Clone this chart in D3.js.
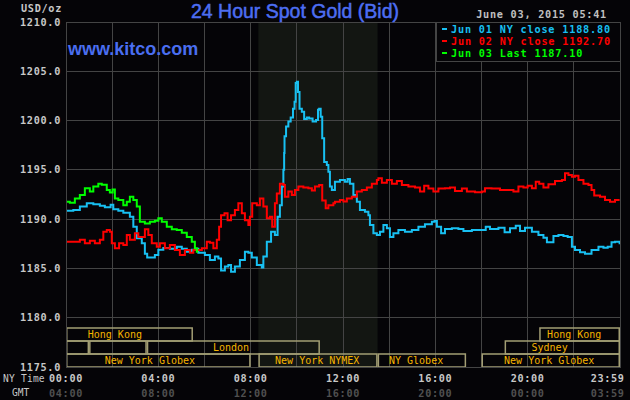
<!DOCTYPE html>
<html><head><meta charset="utf-8">
<script src="https://cdn.jsdelivr.net/npm/d3@7"></script>
<style>html,body{margin:0;padding:0;background:#050407;} svg{display:block}</style>
</head><body><svg id="c" width="630" height="400"></svg>
<script>
// ---- DATA (minutes after 00:00 NY time, price USD/oz) ----
const cyanT = [0,19,36,54,71,88,101,116,123,136,149,158,166,175,184,197,205,211,223,231,240,253,270,288,301,314,327,340,344,361,374,387,396,403,413,422,429,439,452,465,474,483,496,509,513,522,533,543,550,556,561,565,567,568,572,578,584,590,594,597,600,603,607,613,619,626,632,641,650,655,658,662,666,671,678,682,686,691,699,712,725,732,738,747,756,764,777,786,790,799,808,816,825,834,842,851,864,881,899,916,933,951,958,964,975,985,1003,1020,1033,1055,1072,1091,1102,1124,1140,1154,1169,1180,1193,1211,1228,1241,1250,1261,1267,1280,1293,1304,1315,1323,1336,1349,1366,1384,1397,1408,1418,1427,1439];
const cyanV = [1190.86,1190.93,1191.27,1191.6,1191.5,1191.36,1191.2,1191.47,1191.0,1190.86,1190.65,1190.65,1190.25,1189.23,1188.05,1187.55,1186.5,1186.1,1186.1,1186.36,1186.9,1187.07,1187.0,1187.2,1187.0,1186.7,1186.9,1187.0,1186.6,1186.36,1185.85,1186.2,1186.0,1184.8,1185.2,1185.35,1184.67,1185.2,1185.85,1186.7,1186.6,1186.1,1185.35,1185.1,1186.2,1187.7,1188.73,1188.4,1190.25,1191.4,1193.3,1195.0,1196.7,1198.4,1199.4,1199.9,1200.3,1201.2,1201.9,1203.8,1203.95,1202.9,1201.2,1200.9,1200.15,1200.3,1200.2,1199.9,1200.05,1201.1,1201.2,1200.4,1198.2,1195.8,1195.5,1194.8,1193.3,1192.95,1193.8,1193.97,1193.8,1194.07,1193.6,1192.45,1191.77,1190.93,1190.76,1190.4,1189.4,1188.56,1188.4,1188.73,1189.4,1189.07,1188.2,1188.56,1188.9,1188.73,1188.9,1189.23,1189.47,1189.74,1189.8,1189.23,1188.56,1189.0,1189.07,1189.0,1188.8,1188.9,1188.9,1189.23,1189.0,1189.13,1188.67,1189.07,1189.33,1188.8,1189.13,1188.73,1188.4,1188.1,1187.65,1187.65,1188.3,1188.4,1188.3,1188.2,1187.2,1186.87,1186.63,1186.5,1186.87,1187.2,1187.1,1187.2,1187.65,1187.7,1187.45];

const redT = [0,19,36,49,62,75,88,97,106,114,119,127,138,149,158,166,179,188,197,205,214,223,236,244,257,270,283,296,309,322,331,344,353,366,374,383,392,398,403,412,420,429,439,448,457,465,474,478,484,496,504,513,522,530,536,543,548,556,565,569,578,587,595,604,617,630,639,647,658,666,675,682,695,699,712,721,730,743,756,769,782,795,808,812,821,834,847,860,873,890,907,920,931,942,955,968,985,998,1011,1029,1042,1063,1081,1089,1106,1128,1146,1163,1176,1189,1200,1211,1221,1230,1241,1254,1271,1289,1297,1306,1315,1323,1332,1345,1358,1366,1373,1388,1401,1414,1427,1439];
const redV = [1187.7,1187.7,1187.9,1187.55,1187.8,1187.55,1187.9,1188.73,1188.9,1188.73,1187.55,1187.04,1187.55,1187.38,1188.4,1187.9,1188.56,1188.2,1188.2,1188.97,1188.4,1187.55,1187.2,1187.55,1187.04,1187.38,1186.87,1186.36,1186.87,1186.6,1186.87,1186.87,1187.04,1187.7,1187.6,1187.04,1187.9,1189.23,1190.4,1190.6,1189.9,1190.4,1190.93,1191.6,1190.6,1189.9,1189.4,1190.25,1191.6,1191.4,1192.1,1191.27,1190.1,1190.25,1189.23,1191.6,1192.6,1193.6,1193.46,1192.27,1192.8,1192.45,1192.95,1193.3,1193.2,1193.13,1192.9,1193.3,1193.46,1191.9,1191.1,1191.4,1191.6,1191.77,1191.94,1191.8,1192.1,1192.27,1192.8,1192.95,1193.2,1193.6,1193.97,1194.14,1193.7,1193.97,1193.6,1193.87,1193.46,1193.3,1193.2,1192.8,1193.4,1193.1,1192.8,1193.1,1193.13,1193.2,1192.86,1193.1,1192.8,1192.72,1192.8,1193.13,1193.1,1192.95,1192.95,1192.8,1193.3,1193.2,1193.4,1193.13,1193.8,1193.6,1193.2,1193.53,1193.87,1193.97,1194.65,1194.47,1194.3,1194.4,1193.97,1193.6,1193.46,1192.95,1192.4,1192.27,1191.94,1191.77,1191.94,1191.94];

const greenT = [0,10,23,36,49,62,71,84,93,106,114,121,127,136,149,158,166,175,184,192,205,218,231,240,249,262,275,288,301,314,327,335,340,341];
const greenV = [1191.77,1191.67,1192.1,1192.45,1193.13,1192.8,1193.3,1193.6,1193.5,1192.95,1192.7,1193.0,1192.1,1191.94,1191.4,1191.77,1192.27,1191.94,1191.27,1189.74,1189.57,1189.74,1189.84,1190.08,1189.74,1189.23,1188.97,1188.9,1188.63,1188.2,1187.7,1187.04,1186.7,1187.1];

const seriesNames = ["Jun 01 NY close 1188.80","Jun 02 NY close 1192.70","Jun 03 Last 1187.10"];
const seriesColors = ["#18c0f2","#ff0000","#00ff00"];

const yTicks = [1175,1180,1185,1190,1195,1200,1205,1210];
const xTickMin = [0,240,480,720,960,1200,1439];
const xTickNY = ["00:00","04:00","08:00","12:00","16:00","20:00","23:59"];
const xTickGMT = ["04:00","08:00","12:00","16:00","20:00","00:00","03:59"];

const nymexStart = 500, nymexEnd = 810;

const sessionRow   = [0,0,1,1,1,1,2,2,2,2];
const sessionStart = [0,1230,0,60,210,1140,0,500,810,1080];
const sessionEnd   = [330,1440,60,210,660,1440,480,810,1040,1440];
const sessionLabelAt = [127,1321,null,null,429,1257,218,653,910,1256];
const sessionLabel = ["Hong Kong","Hong Kong","","","London","Sydney","New York Globex","New York NYMEX","NY Globex","New York Globex"];

// ---- CHART ----
const svg = d3.select("#c");
const L = 66, R = 620, T = 22, B = 367;
const x = d3.scaleLinear().domain([0,1440]).range([L,R]);
const y = d3.scaleLinear().domain([1175,1210]).range([B,T]);
const mono = "'DejaVu Sans Mono', 'Liberation Mono', monospace";
const grid = "#444444";
const fs = "10.2px";

svg.append("rect").attr("width",630).attr("height",400).attr("fill","#050407");

// NYMEX shading
svg.append("rect").attr("x",x(nymexStart)).attr("y",T).attr("width",x(nymexEnd)-x(nymexStart)).attr("height",B-T).attr("fill","#131612");

// grid
const vg = d3.range(0,1441,120);
svg.append("g").selectAll("line").data(vg).join("line")
  .attr("x1",d=>x(d)).attr("x2",d=>x(d)).attr("y1",T).attr("y2",B)
  .attr("stroke",grid).attr("stroke-width",1).attr("shape-rendering","crispEdges");
svg.append("g").selectAll("line").data(yTicks).join("line")
  .attr("x1",L).attr("x2",R).attr("y1",d=>y(d)).attr("y2",d=>y(d))
  .attr("stroke",grid).attr("stroke-width",1).attr("shape-rendering","crispEdges");

// y axis
const yAxis = svg.append("g").attr("transform",`translate(${L-5},0)`)
  .call(d3.axisLeft(y).tickValues(yTicks).tickFormat(d3.format(".1f")).tickSize(0).tickPadding(0));
yAxis.select(".domain").remove();
yAxis.selectAll("text").attr("fill","#c8c8c8").attr("font-family",mono).attr("font-size",fs)
  .attr("font-weight","bold").attr("letter-spacing","0.7px").attr("dy","0.3em");
svg.append("text").attr("x",L-4).attr("y",12).attr("text-anchor","end").attr("fill","#c8c8c8")
  .attr("font-family",mono).attr("font-size",fs).attr("letter-spacing","0.7px").attr("font-weight","bold").text("USD/oz");

// sessions
const rowTop = [328,341,354], rowH = 13;
const sess = sessionRow.map((r,i)=>({r,s:sessionStart[i],e:sessionEnd[i],lab:sessionLabel[i],at:sessionLabelAt[i]}));
const sg = svg.append("g");
sg.selectAll("rect").data(sess).join("rect")
  .attr("x",d=>x(d.s)+0.75).attr("width",d=>x(d.e)-x(d.s)-1.5)
  .attr("y",d=>rowTop[d.r]).attr("height",rowH)
  .attr("fill","none").attr("stroke","#a39e74").attr("stroke-width",1.5);
sg.selectAll("text").data(sess.filter(d=>d.lab)).join("text")
  .attr("x",d=>x(d.at)).attr("y",d=>rowTop[d.r]+10)
  .attr("text-anchor","middle").attr("fill","#f5b400")
  .attr("font-family",mono).attr("font-size","10px").text(d=>d.lab);

// lines
const line = d3.line().x(d=>x(d[0])).y(d=>y(d[1])).curve(d3.curveStepAfter);
svg.append("clipPath").attr("id","clip").append("rect").attr("x",L).attr("y",T).attr("width",R-L).attr("height",B-T);
const series = [[cyanT,cyanV],[redT,redV],[greenT,greenV]];
const lg = svg.append("g").attr("clip-path","url(#clip)");
series.forEach((s,i)=>{
  const pts = s[0].map((t,j)=>[t,s[1][j]]);
  lg.append("path").datum(pts).attr("d",line).attr("fill","none")
    .attr("stroke",seriesColors[i]).attr("stroke-width",2).attr("stroke-linejoin","miter");
});

// plot border
svg.append("rect").attr("x",L).attr("y",T).attr("width",R-L).attr("height",B-T)
  .attr("fill","none").attr("stroke",grid).attr("stroke-width",1).attr("shape-rendering","crispEdges");

// legend
svg.append("rect").attr("x",436).attr("y",T).attr("width",R-436).attr("height",39)
  .attr("fill","#050407").attr("stroke",grid).attr("stroke-width",1).attr("shape-rendering","crispEdges");
seriesNames.forEach((n,i)=>{
  const by = 33 + i*12;
  svg.append("rect").attr("x",442).attr("y",by-5).attr("width",5).attr("height",2).attr("fill",seriesColors[i]);
  svg.append("text").attr("x",451).attr("y",by).attr("fill",seriesColors[i])
    .attr("font-family",mono).attr("font-size",fs).attr("letter-spacing","0.82px").attr("font-weight","bold").text(n);
});

// title
svg.append("text").attr("x",295).attr("y",18).attr("text-anchor","middle").attr("fill","#4d6ef2")
  .attr("stroke","#4d6ef2").attr("stroke-width",0.5)
  .attr("font-family","'Liberation Sans', Arial, sans-serif").attr("font-size","19.5px").text("24 Hour Spot Gold (Bid)");
svg.append("text").attr("x",68).attr("y",55).attr("fill","#4a6ef0")
  .attr("font-family","'Liberation Sans', Arial, sans-serif").attr("font-size","18px").attr("font-weight","bold").text("www.kitco.com");
svg.append("text").attr("x",607).attr("y",18).attr("text-anchor","end").attr("fill","#c0c0c0")
  .attr("font-family",mono).attr("font-size",fs).attr("letter-spacing","0.75px").attr("font-weight","bold").text("June 03, 2015 05:41");

// x axis labels
const xa = svg.append("g");
xTickMin.forEach((m,i)=>{
  const px = i===xTickMin.length-1 ? x(m)-12 : x(m);
  xa.append("text").attr("x",px).attr("y",382).attr("text-anchor","middle").attr("fill","#c8c8c8")
    .attr("font-family",mono).attr("font-size",fs).attr("letter-spacing","0.66px").attr("font-weight","bold").text(xTickNY[i]);
  xa.append("text").attr("x",px).attr("y",397).attr("text-anchor","middle").attr("fill","#505050")
    .attr("font-family",mono).attr("font-size",fs).attr("letter-spacing","0.66px").attr("font-weight","bold").text(xTickGMT[i]);
});
svg.append("text").attr("x",3).attr("y",382).attr("fill","#c8c8c8").attr("font-family",mono).attr("font-size","9.6px").attr("letter-spacing","0.2px").text("NY Time");
svg.append("text").attr("x",12).attr("y",396).attr("fill","#c8c8c8").attr("font-family",mono).attr("font-size","9.6px").text("GMT");
</script>
</body></html>
